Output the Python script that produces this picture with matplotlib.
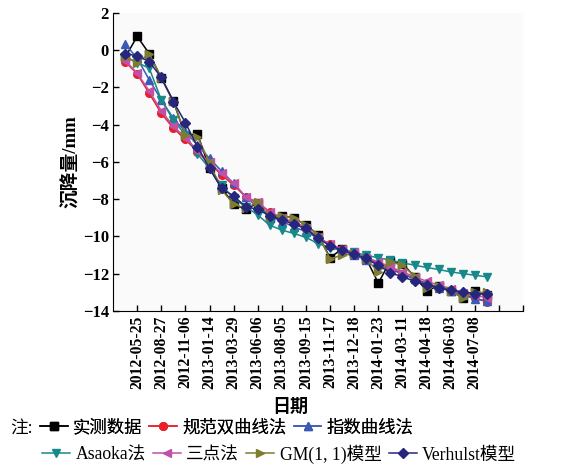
import matplotlib
matplotlib.use("Agg")
import matplotlib.pyplot as plt
from matplotlib.lines import Line2D
import numpy as np

plt.rcParams['font.family'] = ['Liberation Serif', 'Noto Sans CJK SC']
plt.rcParams['axes.unicode_minus'] = True

# tick labels (one label per whole tick, data every half tick)
dates = ['2012-05-25', '2012-08-27', '2012-11-06', '2013-01-14', '2013-03-29',
         '2013-06-06', '2013-08-05', '2013-09-15', '2013-11-17', '2013-12-18',
         '2014-01-23', '2014-03-11', '2014-04-18', '2014-06-03', '2014-07-08']

measured = [-0.40, 0.72, -0.20, -1.50, -2.75, -4.60, -4.50, -6.35, -7.40, -8.27,
            -8.55, -8.20, -9.03, -8.90, -9.00, -9.40, -9.90, -11.15, -10.65, -10.95,
            -11.20, -12.50, -11.30, -11.45, -12.15, -12.90, -12.65, -12.90, -13.30, -12.90,
            -13.15]
hyperbolic = [-0.63, -1.29, -2.33, -3.40, -4.20, -4.80, -5.46, -6.08, -6.70, -7.25,
              -7.87, -8.23, -8.68, -9.00, -9.30, -9.62, -10.05, -10.43, -10.68, -10.91,
              -11.18, -11.45, -11.72, -11.99, -12.25, -12.52, -12.74, -12.92, -13.10, -13.30,
              -13.50]
exponential = [0.32, -0.45, -1.60, -2.68, -3.67, -4.38, -5.10, -5.81, -6.50, -7.16,
               -7.87, -8.44, -8.90, -9.20, -9.48, -9.75, -10.10, -10.47, -10.77, -11.00,
               -11.27, -11.50, -11.77, -12.00, -12.30, -12.52, -12.74, -12.93, -13.15, -13.33,
               -13.47]
asaoka = [-0.36, -0.68, -0.98, -2.68, -3.76, -4.56, -5.58, -6.35, -7.25, -7.96,
          -8.40, -8.85, -9.40, -9.66, -9.84, -10.05, -10.38, -10.60, -10.77, -10.86,
          -11.00, -11.15, -11.27, -11.41, -11.54, -11.66, -11.77, -11.90, -11.99, -12.08,
          -12.16]
three_point = [-0.57, -1.25, -2.20, -3.26, -4.10, -4.70, -5.40, -6.03, -6.62, -7.12,
               -7.90, -8.14, -8.70, -9.03, -9.20, -9.53, -10.05, -10.43, -10.65, -10.86,
               -11.13, -11.36, -11.63, -11.90, -12.16, -12.40, -12.61, -12.79, -13.02, -13.15,
               -13.28]
gm11 = [-0.40, -0.68, -0.20, -1.50, -2.75, -4.55, -4.65, -6.03, -7.50, -8.27,
        -8.50, -8.15, -8.95, -8.90, -9.00, -9.40, -9.90, -11.20, -11.00, -10.95,
        -11.20, -11.90, -11.35, -11.55, -12.10, -12.75, -12.65, -12.90, -13.30, -13.00,
        -13.00]
verhulst = [-0.20, -0.32, -0.63, -1.48, -2.77, -3.90, -5.20, -6.35, -7.42, -7.84,
            -8.40, -8.55, -8.90, -9.12, -9.34, -9.57, -10.10, -10.50, -10.73, -10.95,
            -11.18, -11.54, -11.95, -12.16, -12.40, -12.58, -12.74, -12.88, -12.97, -13.06,
            -13.10]

series = [
    ('实测数据', measured, '#000000', 's'),
    ('规范双曲线法', hyperbolic, '#e8202a', 'o'),
    ('指数曲线法', exponential, '#3a5ab4', '^'),
    ('Asaoka法', asaoka, '#17898a', 'v'),
    ('三点法', three_point, '#c150a6', '<'),
    ('GM(1, 1)模型', gm11, '#7e7c30', '>'),
    ('Verhulst模型', verhulst, '#26267c', 'D'),
]

fig = plt.figure(figsize=(5.71, 4.65), dpi=100)
fig.patch.set_facecolor('white')
ax = fig.add_axes([0.198, 0.331, 0.718, 0.642])
ax.set_facecolor('#fafafa')

x = (np.arange(len(measured)) + 1) * 0.5
handles = []
for name, vals, col, mk in series:
    ms = 5 if mk == 'D' else 5.5
    ax.plot(x, vals, color=col, marker=mk, markersize=ms, linewidth=1.1,
            markeredgecolor=col, markerfacecolor=col)
    handles.append(Line2D([], [], color=col, marker=mk, markersize=ms, linewidth=1.1))

ax.set_xlim(0, 17)
ax.set_ylim(-14, 2)
ax.set_yticks(np.arange(-14, 3, 2))
ax.set_xticks(np.arange(1, 18))
ax.set_xticklabels(dates + ['', ''], rotation=90, fontsize=11.3, fontweight='bold')
for lab in ax.get_yticklabels():
    lab.set_fontsize(12)
    lab.set_fontweight('bold')
ax.tick_params(direction='in', length=4, width=1, pad=3)
ax.spines['top'].set_visible(False)
ax.spines['right'].set_visible(False)
ax.set_ylabel('沉降量/mm', fontsize=13.5, fontweight='bold', labelpad=2)

fig.text(290 / 571, 1 - 407 / 465, '日期', fontsize=13, fontweight='bold',
         ha='center', va='center')

fig.text(10 / 571, 1 - 428 / 465, '注:', fontsize=12.7, ha='left', va='center')
leg1 = fig.legend(handles[:3], [s[0] for s in series[:3]], ncol=3, frameon=False,
                  loc='center left', bbox_to_anchor=(40 / 571, 1 - 428 / 465),
                  fontsize=12.5, handlelength=1.6, handletextpad=0.3,
                  columnspacing=0.4, borderaxespad=0, borderpad=0)
fig.add_artist(leg1)
leg2 = fig.legend(handles[3:], [s[0] for s in series[3:]], ncol=4, frameon=False,
                  loc='center left', bbox_to_anchor=(42 / 571, 1 - 454 / 465),
                  fontsize=12.7, handlelength=1.6, handletextpad=0.3,
                  columnspacing=0.4, borderaxespad=0, borderpad=0)

fig.savefig('out.png', dpi=100)
